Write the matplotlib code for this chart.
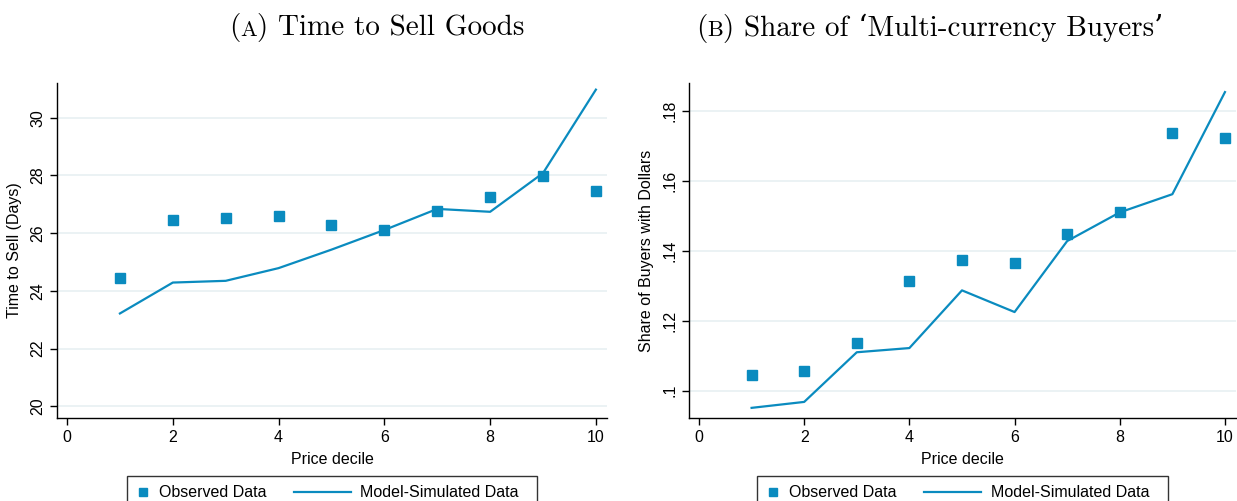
import numpy as np
import matplotlib
matplotlib.use("Agg")
import matplotlib.pyplot as plt
from matplotlib.offsetbox import TextArea, HPacker, AnchoredOffsetbox
from matplotlib.lines import Line2D
from matplotlib.legend_handler import HandlerBase

# price deciles
deciles = [1, 2, 3, 4, 5, 6, 7, 8, 9, 10]

# panel A: time to sell (days)
days_observed = [24.45, 26.45, 26.54, 26.61, 26.27, 26.12, 26.77, 27.24, 27.97, 27.47]
days_model = [23.22, 24.29, 24.35, 24.79, 25.43, 26.11, 26.84, 26.74, 28.08, 30.97]

# panel B: share of buyers paying with dollars
share_observed = [0.1045, 0.1055, 0.1136, 0.1313, 0.1375, 0.1365, 0.1447, 0.1510, 0.1736, 0.1723]
share_model = [0.0951, 0.0968, 0.1110, 0.1122, 0.1287, 0.1225, 0.1428, 0.1510, 0.1562, 0.1854]

x_ticks = [0, 2, 4, 6, 8, 10]
days_ticks = [20, 22, 24, 26, 28, 30]
share_ticks = [0.10, 0.12, 0.14, 0.16, 0.18]
share_ticklabels = [".1", ".12", ".14", ".16", ".18"]

blue = "#0a8bbf"
grid = "#e8f0f2"
W, H = 1237, 501

plt.rcParams["font.family"] = ["Liberation Sans", "DejaVu Sans"]
fig = plt.figure(figsize=(W / 100, H / 100), dpi=100)


class SquareHandler(HandlerBase):
    # small square in the handle box
    def create_artists(self, legend, orig_handle, xdescent, ydescent,
                       width, height, fontsize, trans):
        m = Line2D([width / 2 - xdescent], [height / 2 - ydescent], ls="none",
                   marker="s", ms=6, color=blue, transform=trans)
        return [m]


class LongLineHandler(HandlerBase):
    # line sample that reaches back into the column gap
    def create_artists(self, legend, orig_handle, xdescent, ydescent,
                       width, height, fontsize, trans):
        x1 = width - xdescent
        x0 = x1 - 57 * 72 / 100
        y = height / 2 - ydescent
        ln = Line2D([x0, x1], [y, y], color=blue, lw=1.6, transform=trans)
        return [ln]


def panel(rect, obs, model, yticks, yticklabels, ylim, ylabel):
    ax = fig.add_axes(rect)
    ax.set_xlim(-0.19, 10.21)
    ax.set_ylim(*ylim)
    for y in yticks:
        ax.axhline(y, color=grid, lw=1.2, zorder=0)
    ax.plot(deciles, model, color=blue, lw=1.6, zorder=2)
    ax.plot(deciles, obs, ls="none", marker="s", ms=7, color=blue, zorder=3)
    for s in ["top", "right"]:
        ax.spines[s].set_visible(False)
    for s in ["left", "bottom"]:
        ax.spines[s].set_linewidth(1.0)
    ax.set_xticks(x_ticks)
    ax.set_yticks(yticks)
    ax.set_yticklabels(yticklabels, rotation=90, va="center")
    ax.tick_params(labelsize=11.5, length=5, width=1, direction="out")
    ax.set_xlabel("Price decile", fontsize=11.5, labelpad=5)
    ax.set_ylabel(ylabel, fontsize=11.5, labelpad=6)
    h_obs = object()
    h_mod = object()
    leg = ax.legend([h_obs, h_mod], ["Observed Data", "Model-Simulated Data  "],
                    handler_map={h_obs: SquareHandler(), h_mod: LongLineHandler()},
                    ncol=2, loc="upper center", bbox_to_anchor=(0.5, -0.172),
                    fontsize=11.5, frameon=True, fancybox=False,
                    handlelength=0.8, columnspacing=4.5, handletextpad=0.6,
                    borderpad=0.6, borderaxespad=0)
    leg.get_frame().set_edgecolor("black")
    leg.get_frame().set_linewidth(1.0)
    return ax


ax1 = panel([57 / W, 83 / H, 550 / W, 335 / H], days_observed, days_model,
            days_ticks, [str(t) for t in days_ticks], (19.6, 31.2),
            "Time to Sell (Days)")
ax2 = panel([689 / W, 83 / H, 547 / W, 335 / H], share_observed, share_model,
            share_ticks, share_ticklabels, (0.0922, 0.188),
            "Share of Buyers with Dollars")


def title(xc, letter, rest):
    font = dict(family=["cmr10", "DejaVu Serif"], size=21)
    small = dict(family=["cmr10", "DejaVu Serif"], size=16)
    box = HPacker(children=[TextArea("(", textprops=font),
                            TextArea(letter, textprops=small),
                            TextArea(rest, textprops=font)],
                  align="baseline", pad=0, sep=0)
    ab = AnchoredOffsetbox(loc="center", child=box, frameon=False,
                           bbox_to_anchor=(xc / W, 1 - 28 / H),
                           bbox_transform=fig.transFigure, borderpad=0, pad=0)
    fig.add_artist(ab)


title(377, "A", ") Time to Sell Goods")
title(930, "B", ") Share of \u2018Multi-currency Buyers\u2019")

fig.savefig("out.png", dpi=100)
